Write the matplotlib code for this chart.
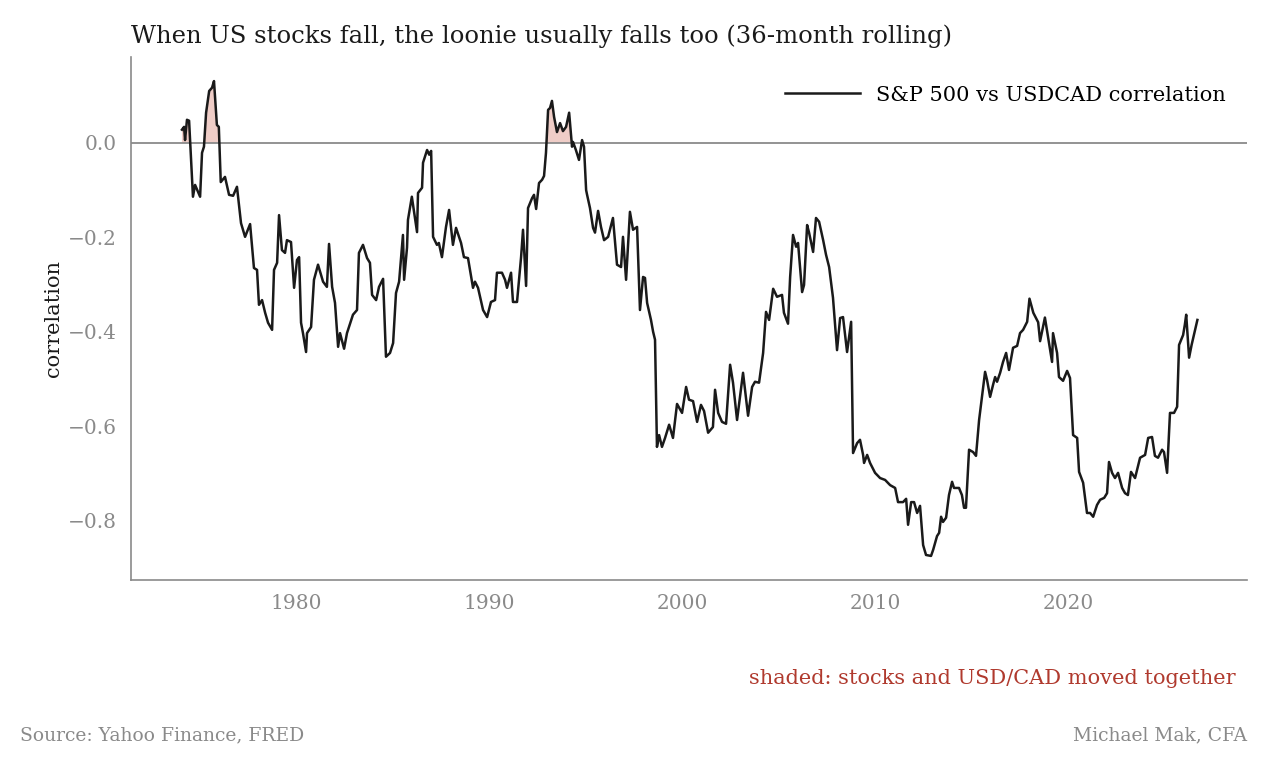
import matplotlib
matplotlib.use("Agg")
import matplotlib.pyplot as plt
import numpy as np

years = [1974.09,1974.2,1974.25,1974.35,1974.46,1974.66,1974.77,1975.03,1975.13,1975.23,1975.34,1975.5,1975.65,1975.75,1975.9,1976.0,1976.1,1976.32,1976.53,1976.74,1976.94,1977.15,1977.36,1977.62,1977.82,1977.98,1978.08,1978.24,1978.4,1978.55,1978.76,1978.86,1979.02,1979.12,1979.27,1979.43,1979.53,1979.74,1979.9,1980.05,1980.16,1980.26,1980.36,1980.52,1980.57,1980.78,1980.93,1981.14,1981.4,1981.6,1981.71,1981.87,1982.02,1982.18,1982.28,1982.49,1982.64,1982.95,1983.16,1983.26,1983.47,1983.68,1983.83,1983.94,1984.15,1984.3,1984.51,1984.66,1984.87,1985.03,1985.18,1985.34,1985.54,1985.6,1985.75,1985.8,1986.0,1986.27,1986.32,1986.53,1986.58,1986.79,1986.9,1987.0,1987.1,1987.3,1987.4,1987.56,1987.77,1987.93,1988.13,1988.29,1988.55,1988.7,1988.91,1989.17,1989.27,1989.43,1989.69,1989.9,1990.1,1990.31,1990.41,1990.67,1990.83,1990.93,1991.14,1991.24,1991.45,1991.66,1991.76,1991.92,1992.02,1992.23,1992.33,1992.44,1992.59,1992.75,1992.85,1992.95,1993.06,1993.16,1993.26,1993.37,1993.52,1993.68,1993.83,1993.99,1994.15,1994.3,1994.35,1994.5,1994.66,1994.82,1994.92,1995.03,1995.08,1995.23,1995.39,1995.49,1995.65,1995.8,1995.96,1996.17,1996.42,1996.63,1996.84,1996.94,1997.1,1997.3,1997.46,1997.67,1997.82,1997.98,1998.08,1998.19,1998.39,1998.5,1998.6,1998.7,1998.81,1998.96,1999.12,1999.33,1999.53,1999.74,2000.0,2000.21,2000.36,2000.57,2000.78,2000.98,2001.14,2001.35,2001.6,2001.71,2001.87,2002.07,2002.28,2002.49,2002.64,2002.85,2003.16,2003.42,2003.63,2003.78,2003.99,2004.2,2004.35,2004.51,2004.72,2004.92,2005.18,2005.28,2005.49,2005.6,2005.75,2005.91,2006.01,2006.22,2006.32,2006.48,2006.58,2006.79,2006.94,2007.1,2007.31,2007.46,2007.62,2007.82,2008.03,2008.19,2008.34,2008.55,2008.76,2008.86,2009.07,2009.22,2009.38,2009.43,2009.59,2009.74,2010.0,2010.26,2010.52,2010.78,2011.04,2011.19,2011.45,2011.61,2011.71,2011.87,2012.02,2012.18,2012.33,2012.49,2012.64,2012.9,2013.01,2013.21,2013.32,2013.42,2013.52,2013.68,2013.83,2013.99,2014.09,2014.35,2014.5,2014.61,2014.71,2014.87,2015.08,2015.23,2015.39,2015.6,2015.7,2015.8,2015.96,2016.11,2016.22,2016.32,2016.48,2016.63,2016.79,2016.94,2017.15,2017.36,2017.51,2017.67,2017.88,2018.0,2018.2,2018.45,2018.55,2018.7,2018.8,2019.17,2019.22,2019.43,2019.53,2019.74,2019.95,2020.1,2020.26,2020.47,2020.57,2020.78,2020.98,2021.14,2021.3,2021.5,2021.66,2021.87,2022.02,2022.12,2022.28,2022.43,2022.59,2022.8,2022.95,2023.1,2023.26,2023.47,2023.73,2023.99,2024.15,2024.35,2024.5,2024.66,2024.87,2024.97,2025.13,2025.28,2025.49,2025.65,2025.75,2025.96,2026.05,2026.12,2026.27,2026.4,2026.7]
corr = [0.028,0.034,0.006,0.049,0.047,-0.114,-0.089,-0.114,-0.021,-0.008,0.064,0.11,0.117,0.131,0.038,0.034,-0.083,-0.072,-0.11,-0.112,-0.093,-0.17,-0.199,-0.172,-0.265,-0.269,-0.343,-0.333,-0.36,-0.381,-0.396,-0.269,-0.254,-0.153,-0.227,-0.233,-0.206,-0.21,-0.307,-0.248,-0.242,-0.381,-0.403,-0.443,-0.403,-0.39,-0.29,-0.258,-0.294,-0.305,-0.214,-0.305,-0.339,-0.432,-0.403,-0.436,-0.403,-0.364,-0.354,-0.233,-0.216,-0.244,-0.254,-0.322,-0.333,-0.305,-0.288,-0.453,-0.445,-0.424,-0.318,-0.294,-0.195,-0.29,-0.222,-0.163,-0.114,-0.189,-0.106,-0.095,-0.042,-0.015,-0.025,-0.017,-0.199,-0.216,-0.212,-0.242,-0.178,-0.142,-0.216,-0.18,-0.212,-0.242,-0.244,-0.307,-0.294,-0.307,-0.354,-0.369,-0.337,-0.333,-0.275,-0.275,-0.29,-0.307,-0.275,-0.337,-0.337,-0.242,-0.184,-0.303,-0.138,-0.117,-0.11,-0.14,-0.085,-0.078,-0.07,-0.021,0.07,0.074,0.089,0.055,0.023,0.042,0.025,0.034,0.064,-0.008,0.002,-0.015,-0.036,0.006,-0.008,-0.1,-0.11,-0.138,-0.18,-0.19,-0.144,-0.178,-0.206,-0.199,-0.159,-0.258,-0.263,-0.199,-0.29,-0.146,-0.184,-0.178,-0.354,-0.284,-0.286,-0.339,-0.375,-0.4,-0.417,-0.644,-0.619,-0.644,-0.625,-0.597,-0.625,-0.553,-0.572,-0.517,-0.544,-0.547,-0.591,-0.555,-0.568,-0.614,-0.602,-0.523,-0.572,-0.591,-0.595,-0.47,-0.508,-0.587,-0.487,-0.578,-0.517,-0.506,-0.508,-0.445,-0.358,-0.375,-0.309,-0.326,-0.322,-0.36,-0.383,-0.284,-0.195,-0.22,-0.212,-0.316,-0.301,-0.174,-0.19,-0.231,-0.159,-0.167,-0.206,-0.237,-0.263,-0.328,-0.439,-0.371,-0.369,-0.443,-0.379,-0.657,-0.636,-0.629,-0.661,-0.678,-0.661,-0.678,-0.699,-0.71,-0.714,-0.725,-0.731,-0.761,-0.761,-0.754,-0.809,-0.761,-0.761,-0.784,-0.769,-0.852,-0.873,-0.875,-0.862,-0.833,-0.826,-0.792,-0.803,-0.794,-0.746,-0.718,-0.731,-0.731,-0.746,-0.773,-0.773,-0.65,-0.655,-0.663,-0.587,-0.519,-0.485,-0.502,-0.538,-0.513,-0.496,-0.506,-0.487,-0.464,-0.445,-0.481,-0.434,-0.43,-0.403,-0.396,-0.379,-0.33,-0.36,-0.38,-0.42,-0.39,-0.37,-0.464,-0.403,-0.445,-0.496,-0.504,-0.483,-0.498,-0.619,-0.625,-0.697,-0.72,-0.784,-0.784,-0.792,-0.767,-0.756,-0.752,-0.742,-0.676,-0.699,-0.71,-0.699,-0.731,-0.742,-0.746,-0.697,-0.71,-0.667,-0.661,-0.625,-0.623,-0.663,-0.667,-0.65,-0.655,-0.699,-0.572,-0.572,-0.559,-0.428,-0.407,-0.385,-0.364,-0.455,-0.428,-0.375]

plt.rcParams['font.family'] = ['DejaVu Serif']
fig = plt.figure(figsize=(12.67, 7.65), dpi=100)
ax = fig.add_axes([131/1267, 1-580/765, (1247-131)/1267, (580-57)/765])
x = np.array(years); y = np.array(corr)
ax.fill_between(x, y, 0, where=y > 0, interpolate=True, color='#efcdc7', lw=0)
ax.axhline(0, color='#8a8a8a', lw=1.3, zorder=1)
ax.plot(x, y, color='#1a1a1a', lw=1.8, label='S&P 500 vs USDCAD correlation')
ax.set_xlim(1971.45, 2029.27)
ax.set_ylim(-0.926, 0.182)
ax.set_yticks([0.0, -0.2, -0.4, -0.6, -0.8])
ax.set_yticklabels(['0.0', '−0.2', '−0.4', '−0.6', '−0.8'])
ax.set_xticks([1980, 1990, 2000, 2010, 2020])
for s in ['top', 'right']:
    ax.spines[s].set_visible(False)
for s in ['left', 'bottom']:
    ax.spines[s].set_color('#8a8a8a')
    ax.spines[s].set_linewidth(1.2)
ax.tick_params(colors='#8a8a8a', labelsize=14.5, length=0, pad=10)
ax.set_ylabel('correlation', fontsize=15, color='#1a1a1a')
ax.set_title('When US stocks fall, the loonie usually falls too (36-month rolling)',
             loc='left', fontsize=17.5, color='#1a1a1a', pad=10)
ax.legend(loc='upper right', frameon=False, fontsize=15, handlelength=3.6,
          bbox_to_anchor=(1.0, 0.985), borderaxespad=0.6)
fig.text(1236/1267, 1-678/765, 'shaded: stocks and USD/CAD moved together', ha='right', va='center',
         color='#b03a2e', fontsize=15)
fig.text(20/1267, 1-735/765, 'Source: Yahoo Finance, FRED', ha='left', va='center', color='#8a8a8a', fontsize=13.5)
fig.text(1247/1267, 1-735/765, 'Michael Mak, CFA', ha='right', va='center', color='#8a8a8a', fontsize=13.5)
fig.savefig('out.png', dpi=100)
